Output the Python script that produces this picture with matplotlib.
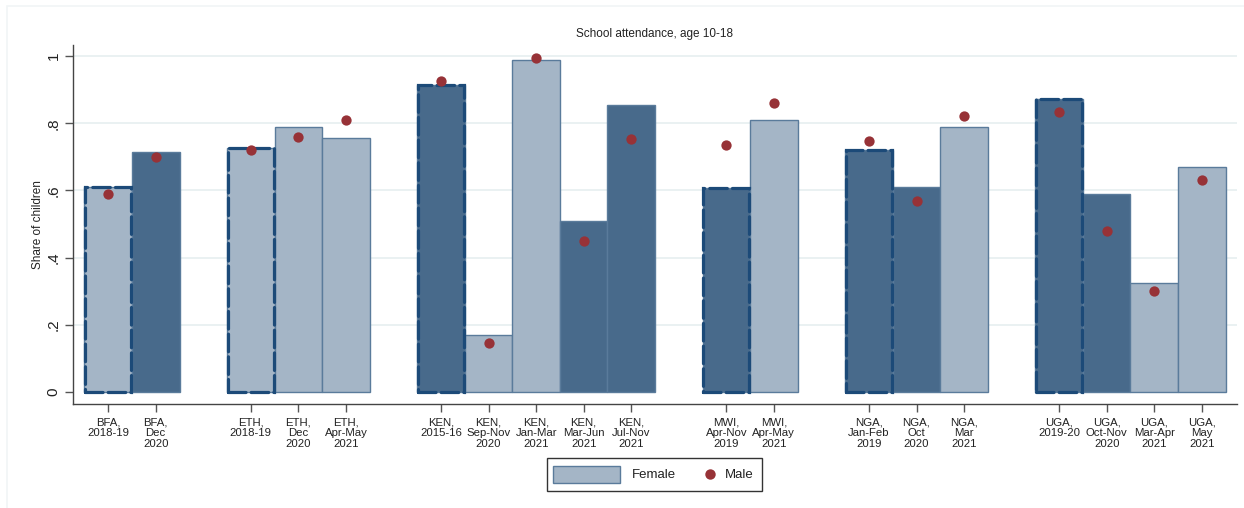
import matplotlib
matplotlib.use("Agg")
import matplotlib.pyplot as plt
from matplotlib.patches import Rectangle
from matplotlib.lines import Line2D

plt.rcParams["font.family"] = ["Liberation Sans", "DejaVu Sans"]

# survey rounds, grouped by country
labels = [
    "BFA,\n2018-19", "BFA,\nDec\n2020",
    "ETH,\n2018-19", "ETH,\nDec\n2020", "ETH,\nApr-May\n2021",
    "KEN,\n2015-16", "KEN,\nSep-Nov\n2020", "KEN,\nJan-Mar\n2021", "KEN,\nMar-Jun\n2021", "KEN,\nJul-Nov\n2021",
    "MWI,\nApr-Nov\n2019", "MWI,\nApr-May\n2021",
    "NGA,\nJan-Feb\n2019", "NGA,\nOct\n2020", "NGA,\nMar\n2021",
    "UGA,\n2019-20", "UGA,\nOct-Nov\n2020", "UGA,\nMar-Apr\n2021", "UGA,\nMay\n2021",
]
group_sizes = [2, 3, 5, 2, 3, 4]

female = [0.61, 0.714,
          0.726, 0.79, 0.756,
          0.914, 0.168, 0.988, 0.51, 0.854,
          0.607, 0.81,
          0.72, 0.61, 0.79,
          0.872, 0.589, 0.324, 0.67]
male = [0.59, 0.70,
        0.72, 0.76, 0.81,
        0.925, 0.145, 0.995, 0.45, 0.753,
        0.735, 0.86,
        0.747, 0.568, 0.822,
        0.833, 0.48, 0.30, 0.63]
# 1 = dark shading, 0 = light shading
dark = [0, 1,
        0, 0, 0,
        1, 0, 0, 1, 1,
        1, 0,
        1, 1, 0,
        1, 1, 0, 0]
# first round in each country is the pre-COVID baseline
baseline = [1, 0,
            1, 0, 0,
            1, 0, 0, 0, 0,
            1, 0,
            1, 0, 0,
            1, 0, 0, 0]

# x positions with one empty slot between countries
pos = []
start = 0
for n in group_sizes:
    pos += list(range(start, start + n))
    start += n + 1

DARK = "#486a8b"
LIGHT = "#a4b5c6"
EDGE = "#5a7b9b"
NAVY = "#1c4a78"
RED = "#973237"
W, H = 1244, 508

fig = plt.figure(figsize=(W / 100, H / 100), dpi=100)
fig.patches.append(Rectangle((7 / W, -0.1), 1.1, 0.1 + 1 - 6 / H,
                             transform=fig.transFigure, fill=False,
                             edgecolor="#f1f5f6", lw=1.2))
ax = fig.add_axes([73 / W, 1 - 404 / H, (1237 - 73) / W, (404 - 45) / H])

for y in [0.2, 0.4, 0.6, 0.8, 1.0]:
    ax.axhline(y, color="#e8f0f1", lw=1.3, zorder=0)

colors = [DARK if d else LIGHT for d in dark]
ax.bar(pos, female, width=1.0, color=colors, edgecolor=EDGE, linewidth=1.0, zorder=2)

# dashed outline on baseline rounds
for p, v, b in zip(pos, female, baseline):
    if b:
        ax.bar(p, v, width=0.97, fill=False, edgecolor=NAVY, linewidth=2.3,
               linestyle=(0, (5.5, 1.6)), capstyle="round", zorder=3)

ax.scatter(pos, male, s=55, color=RED, zorder=4, linewidths=0)

ax.set_xlim(-0.74, 23.74)
ax.set_ylim(-0.036, 1.033)
ax.set_xticks(pos)
ax.set_xticklabels(labels, fontsize=8.2, linespacing=1.12, color="#222222")
ax.set_yticks([0, 0.2, 0.4, 0.6, 0.8, 1.0])
ax.set_yticklabels(["0", ".2", ".4", ".6", ".8", "1"], rotation=90, va="center",
                   fontsize=11, color="#222222")
ax.tick_params(axis="x", length=6, width=1, color="#555555", pad=3.5)
ax.tick_params(axis="y", length=6, width=1, color="#555555", pad=3)
for s in ["top", "right"]:
    ax.spines[s].set_visible(False)
for s in ["left", "bottom"]:
    ax.spines[s].set_color("#444444")
    ax.spines[s].set_linewidth(1.0)

ax.set_ylabel("Share of children", fontsize=8.5, labelpad=2, color="#222222")
fig.text(654 / W, 1 - 34 / H, "School attendance, age 10-18", fontsize=8.5,
         ha="center", va="center", color="#222222")

# legend box drawn by hand: wide swatch for Female, plain dot for Male
fig.patches.append(Rectangle((547 / W, 1 - 491 / H), 215 / W, 33 / H,
                             transform=fig.transFigure, fill=True, facecolor="white",
                             edgecolor="#333333", lw=1.0))
fig.patches.append(Rectangle((553 / W, 1 - 483 / H), 67 / W, 17 / H,
                             transform=fig.transFigure, facecolor=LIGHT,
                             edgecolor=EDGE, lw=1.0))
fig.text(632 / W, 1 - 475 / H, "Female", fontsize=9.5, va="center", color="#222222")
fig.lines.append(Line2D([710 / W], [1 - 474 / H], transform=fig.transFigure,
                        marker="o", ls="none", color=RED, markersize=7.5,
                        markeredgewidth=0))
fig.text(725 / W, 1 - 475 / H, "Male", fontsize=9.5, va="center", color="#222222")

fig.savefig("out.png", dpi=100)
